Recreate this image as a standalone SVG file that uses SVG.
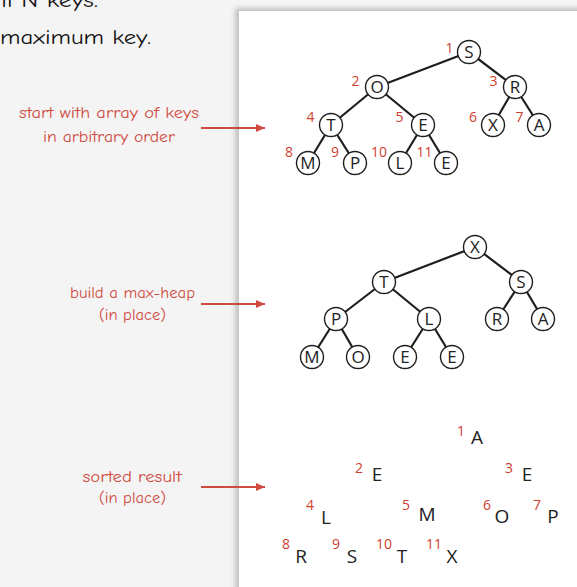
<svg xmlns="http://www.w3.org/2000/svg" width="577" height="587" viewBox="0 0 577 587">
  <style>
    .heading { font-family: "Comic Sans MS", "Comic Neue", "Liberation Sans", sans-serif; font-size: 21px; fill: #111; }
    .note { font-family: "Comic Sans MS", "Comic Neue", "Liberation Sans", sans-serif; font-size: 15.5px; fill: #cf4a3f; text-anchor: middle; }
    .edge { stroke: #1e1e1e; stroke-width: 2.2; fill: none; }
    .node circle { fill: #fff; stroke: #1e1e1e; stroke-width: 1.4; }
    .key { font-family: "Open Sans", "DejaVu Sans", sans-serif; font-size: 17px; fill: #222; text-anchor: middle; }
    .bigkey { font-family: "Open Sans", "DejaVu Sans", sans-serif; font-size: 19px; fill: #222; text-anchor: middle; }
    .idx { font-family: "Open Sans", "DejaVu Sans", sans-serif; font-size: 14px; fill: #d0402f; text-anchor: middle; }
    .arrow { stroke: #cf4a3f; stroke-width: 2; fill: none; marker-end: url(#head); }
  </style>
  <defs>
    <marker id="head" markerUnits="userSpaceOnUse" markerWidth="10" markerHeight="10" refX="9" refY="4" orient="auto">
      <path d="M0,0 L9,4 L0,8 Z" fill="#cf4a3f"/>
    </marker>
    <filter id="soft" x="-10%" y="-10%" width="120%" height="120%">
      <feGaussianBlur stdDeviation="2.5"/>
    </filter>
  </defs>

  <!-- page background -->
  <rect x="0" y="0" width="577" height="587" fill="#f4f4f4"/>

  <!-- slide heading, partly off the top edge -->
  <text class="heading" x="-12" y="7" textLength="110" lengthAdjust="spacingAndGlyphs">all N keys.</text>
  <text class="heading" x="0" y="44" textLength="151" lengthAdjust="spacingAndGlyphs">maximum key.</text>

  <!-- white drawing panel with soft shadow -->
  <rect x="235" y="8" width="360" height="600" fill="#9a9a9a" opacity="0.55" filter="url(#soft)"/>
  <rect x="239" y="11" width="340" height="580" fill="#ffffff"/>

  <!-- step captions -->
  <g id="caption-start">
    <text class="note" x="109" y="118" textLength="180" lengthAdjust="spacingAndGlyphs">start with array of keys</text>
    <text class="note" x="109" y="142" textLength="132" lengthAdjust="spacingAndGlyphs">in arbitrary order</text>
  </g>
  <g id="caption-heap">
    <text class="note" x="132.5" y="298" textLength="125" lengthAdjust="spacingAndGlyphs">build a max-heap</text>
    <text class="note" x="132.5" y="320" textLength="67" lengthAdjust="spacingAndGlyphs">(in place)</text>
  </g>
  <g id="caption-sorted">
    <text class="note" x="132" y="482" textLength="99" lengthAdjust="spacingAndGlyphs">sorted result</text>
    <text class="note" x="132.5" y="503" textLength="67" lengthAdjust="spacingAndGlyphs">(in place)</text>
  </g>

  <!-- connectors: caption arrows and tree edges -->
  <g id="connectors">
    <line class="arrow" x1="201" y1="128" x2="265" y2="128"/>
    <line class="arrow" x1="201" y1="304" x2="265" y2="304"/>
    <line class="arrow" x1="201" y1="487" x2="265" y2="487"/>

    <!-- initial array as tree -->
    <line class="edge" x1="469" y1="52" x2="377" y2="87"/>
    <line class="edge" x1="469" y1="52" x2="515" y2="87"/>
    <line class="edge" x1="377" y1="87" x2="331" y2="125"/>
    <line class="edge" x1="377" y1="87" x2="423" y2="125"/>
    <line class="edge" x1="515" y1="87" x2="493" y2="125"/>
    <line class="edge" x1="515" y1="87" x2="539" y2="125"/>
    <line class="edge" x1="331" y1="125" x2="308" y2="163"/>
    <line class="edge" x1="331" y1="125" x2="355" y2="163"/>
    <line class="edge" x1="423" y1="125" x2="400" y2="163"/>
    <line class="edge" x1="423" y1="125" x2="446" y2="163"/>

    <!-- max-heap -->
    <line class="edge" x1="475" y1="247" x2="384" y2="282"/>
    <line class="edge" x1="475" y1="247" x2="521" y2="282"/>
    <line class="edge" x1="384" y1="282" x2="336" y2="319"/>
    <line class="edge" x1="384" y1="282" x2="429" y2="319"/>
    <line class="edge" x1="521" y1="282" x2="497" y2="319"/>
    <line class="edge" x1="521" y1="282" x2="543" y2="319"/>
    <line class="edge" x1="336" y1="319" x2="312" y2="357"/>
    <line class="edge" x1="336" y1="319" x2="358" y2="357"/>
    <line class="edge" x1="429" y1="319" x2="405" y2="357"/>
    <line class="edge" x1="429" y1="319" x2="452" y2="357"/>
  </g>

  <!-- initial array drawn as a complete binary tree -->
  <g id="start-tree">
    <g id="s1" class="node"><circle cx="469" cy="52" r="11.5"/><text class="key" x="469" y="58.3">S</text><text class="idx" x="449.5" y="52.5">1</text></g>
    <g id="s2" class="node"><circle cx="377" cy="87" r="11.5"/><text class="key" x="377" y="93.3">O</text><text class="idx" x="355.5" y="86">2</text></g>
    <g id="s3" class="node"><circle cx="515" cy="87" r="11.5"/><text class="key" x="515" y="93.3">R</text><text class="idx" x="493.5" y="86">3</text></g>
    <g id="s4" class="node"><circle cx="331" cy="125" r="11.5"/><text class="key" x="331" y="131.3">T</text><text class="idx" x="310.5" y="122">4</text></g>
    <g id="s5" class="node"><circle cx="423" cy="125" r="11.5"/><text class="key" x="423" y="131.3">E</text><text class="idx" x="399.5" y="122">5</text></g>
    <g id="s6" class="node"><circle cx="493" cy="125" r="11.5"/><text class="key" x="493" y="131.3">X</text><text class="idx" x="473" y="122">6</text></g>
    <g id="s7" class="node"><circle cx="539" cy="125" r="11.5"/><text class="key" x="539" y="131.3">A</text><text class="idx" x="519.5" y="122">7</text></g>
    <g id="s8" class="node"><circle cx="308" cy="163" r="11.5"/><text class="key" x="308" y="169.3">M</text><text class="idx" x="289" y="157">8</text></g>
    <g id="s9" class="node"><circle cx="355" cy="163" r="11.5"/><text class="key" x="355" y="169.3">P</text><text class="idx" x="335" y="157">9</text></g>
    <g id="s10" class="node"><circle cx="400" cy="163" r="11.5"/><text class="key" x="400" y="169.3">L</text><text class="idx" x="379" y="157">10</text></g>
    <g id="s11" class="node"><circle cx="446" cy="163" r="11.5"/><text class="key" x="446" y="169.3">E</text><text class="idx" x="424.5" y="157">11</text></g>
  </g>

  <!-- heap-ordered tree -->
  <g id="heap-tree">
    <g id="h1" class="node"><circle cx="475" cy="247" r="11.5"/><text class="key" x="475" y="253.3">X</text></g>
    <g id="h2" class="node"><circle cx="384" cy="282" r="11.5"/><text class="key" x="384" y="288.3">T</text></g>
    <g id="h3" class="node"><circle cx="521" cy="282" r="11.5"/><text class="key" x="521" y="288.3">S</text></g>
    <g id="h4" class="node"><circle cx="336" cy="319" r="11.5"/><text class="key" x="336" y="325.3">P</text></g>
    <g id="h5" class="node"><circle cx="429" cy="319" r="11.5"/><text class="key" x="429" y="325.3">L</text></g>
    <g id="h6" class="node"><circle cx="497" cy="319" r="11.5"/><text class="key" x="497" y="325.3">R</text></g>
    <g id="h7" class="node"><circle cx="543" cy="319" r="11.5"/><text class="key" x="543" y="325.3">A</text></g>
    <g id="h8" class="node"><circle cx="312" cy="357" r="11.5"/><text class="key" x="312" y="363.3">M</text></g>
    <g id="h9" class="node"><circle cx="358" cy="357" r="11.5"/><text class="key" x="358" y="363.3">O</text></g>
    <g id="h10" class="node"><circle cx="405" cy="357" r="11.5"/><text class="key" x="405" y="363.3">E</text></g>
    <g id="h11" class="node"><circle cx="452" cy="357" r="11.5"/><text class="key" x="452" y="363.3">E</text></g>
  </g>

  <!-- sorted array laid out in tree positions -->
  <g id="sorted">
    <g id="r1"><text class="idx" x="461" y="436">1</text><text class="bigkey" x="477" y="444">A</text></g>
    <g id="r2"><text class="idx" x="359" y="473">2</text><text class="bigkey" x="377" y="481">E</text></g>
    <g id="r3"><text class="idx" x="509" y="473">3</text><text class="bigkey" x="527" y="481">E</text></g>
    <g id="r4"><text class="idx" x="310" y="510">4</text><text class="bigkey" x="326" y="524">L</text></g>
    <g id="r5"><text class="idx" x="406" y="510">5</text><text class="bigkey" x="427" y="521">M</text></g>
    <g id="r6"><text class="idx" x="487" y="510">6</text><text class="bigkey" x="502" y="522.5">O</text></g>
    <g id="r7"><text class="idx" x="537" y="510">7</text><text class="bigkey" x="553" y="522.5">P</text></g>
    <g id="r8"><text class="idx" x="286" y="549">8</text><text class="bigkey" x="301" y="563">R</text></g>
    <g id="r9"><text class="idx" x="336" y="549">9</text><text class="bigkey" x="352" y="563">S</text></g>
    <g id="r10"><text class="idx" x="384" y="549">10</text><text class="bigkey" x="402" y="563">T</text></g>
    <g id="r11"><text class="idx" x="434" y="549">11</text><text class="bigkey" x="452" y="563">X</text></g>
  </g>
</svg>
